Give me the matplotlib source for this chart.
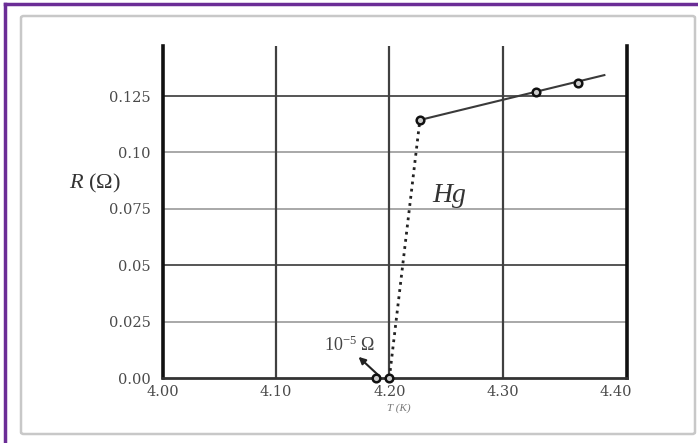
import numpy as np
import matplotlib.pyplot as plt
from matplotlib.patches import FancyBboxPatch
from matplotlib.lines import Line2D

plt.rcParams['mathtext.fontset'] = 'custom'
plt.rcParams['mathtext.rm'] = 'Liberation Serif'
plt.rcParams['mathtext.it'] = 'Liberation Serif:italic'

# data
T_super = [4.188, 4.200]
R_super = [0.0, 0.0]
T_normal = [4.227, 4.330, 4.367]
R_normal = [0.1144, 0.127, 0.131]
T_fit = [4.227, 4.390]
R_fit = [0.1144, 0.1343]
T_jump = [4.200, 4.227]
R_jump = [0.0, 0.1144]

x_ticks = [4.00, 4.10, 4.20, 4.30, 4.40]
x_labels = ['4.00', '4.10', '4.20', '4.30', '4.40']
y_ticks = [0.0, 0.025, 0.05, 0.075, 0.10, 0.125]
y_labels = ['0.00', '0.025', '0.05', '0.075', '0.10', '0.125']
y_grid_dark = [0.05, 0.125]

fig = plt.figure(figsize=(6.98, 4.43), dpi=100)
W, H = 698, 443

# purple frame (top + left) and grey inner box
fig.add_artist(Line2D([4.5 / W, 1], [1 - 3.5 / H] * 2, transform=fig.transFigure,
                      color='#6b2d96', lw=2.5, zorder=-2))
fig.add_artist(Line2D([4.5 / W] * 2, [0, 1 - 3.5 / H], transform=fig.transFigure,
                      color='#6b2d96', lw=2.5, zorder=-2))
fig.add_artist(FancyBboxPatch((21 / W, 1 - 434 / H), 674 / W, 418 / H,
                              boxstyle='round,pad=0,rounding_size=0.004',
                              transform=fig.transFigure, fc='white',
                              ec='#c8c8c8', lw=1.8, zorder=-1))

ax = fig.add_axes([163 / W, 1 - 378 / H, 464 / W, 332 / H])
ax.set_xlim(4.0, 4.41)
ax.set_ylim(0, 0.1472)
ax.patch.set_alpha(0)

for y in y_ticks[1:]:
    dark = y in y_grid_dark
    ax.axhline(y, color='#555555' if dark else '#9a9a9a', lw=1.4 if dark else 1.2, zorder=1)
for x in x_ticks[1:4]:
    ax.axvline(x, color='#404040', lw=1.6, zorder=1)

ax.spines['top'].set_visible(False)
for s in ['left', 'right']:
    ax.spines[s].set_linewidth(2.6)
    ax.spines[s].set_color('#111111')
ax.spines['bottom'].set_linewidth(2.0)
ax.spines['bottom'].set_color('#333333')

ax.set_xticks(x_ticks)
ax.set_xticklabels(x_labels)
ax.set_yticks(y_ticks)
ax.set_yticklabels(y_labels)
ax.tick_params(length=0, labelsize=10.5, labelcolor='#4a4a4a')
ax.tick_params(axis='y', pad=9)
ax.tick_params(axis='x', pad=5)
for lab in ax.get_xticklabels() + ax.get_yticklabels():
    lab.set_family('DejaVu Serif')

ax.plot(T_fit, R_fit, color='#3a3a3a', lw=1.5, zorder=3)
ax.plot(T_jump, R_jump, color='#222222', lw=2, ls=(0, (1.0, 1.6)), zorder=3)
ax.plot(T_normal, R_normal, 'o', ms=5.5, mfc='#cccccc', mec='#111111', mew=1.8, zorder=4)
ax.plot(T_super, R_super, 'o', ms=5.5, mfc='#cccccc', mec='#111111', mew=1.8,
        zorder=4, clip_on=False)

ax.annotate('', xy=(4.171, 0.0102), xytext=(4.193, 0.0),
            arrowprops=dict(arrowstyle='-|>', color='#222222', lw=1.5, mutation_scale=10))
ax.text(4.165, 0.0145, '10$^{-5}$ Ω', family='Liberation Serif', fontsize=13,
        color='#444444', ha='center', va='center')
ax.text(4.253, 0.081, 'Hg', family='Liberation Serif', style='italic', fontsize=20,
        color='#333333', ha='center', va='center')

fig.text(95 / W, 1 - 183 / H, '$R$ (Ω)', family='Liberation Serif', fontsize=16,
         color='#333333', ha='center', va='center')
fig.text(399 / W, 1 - 408 / H, 'T (K)', family='Liberation Serif', style='italic',
         fontsize=8, color='#777777', ha='center', va='center')

fig.savefig('out.png', dpi=100)
